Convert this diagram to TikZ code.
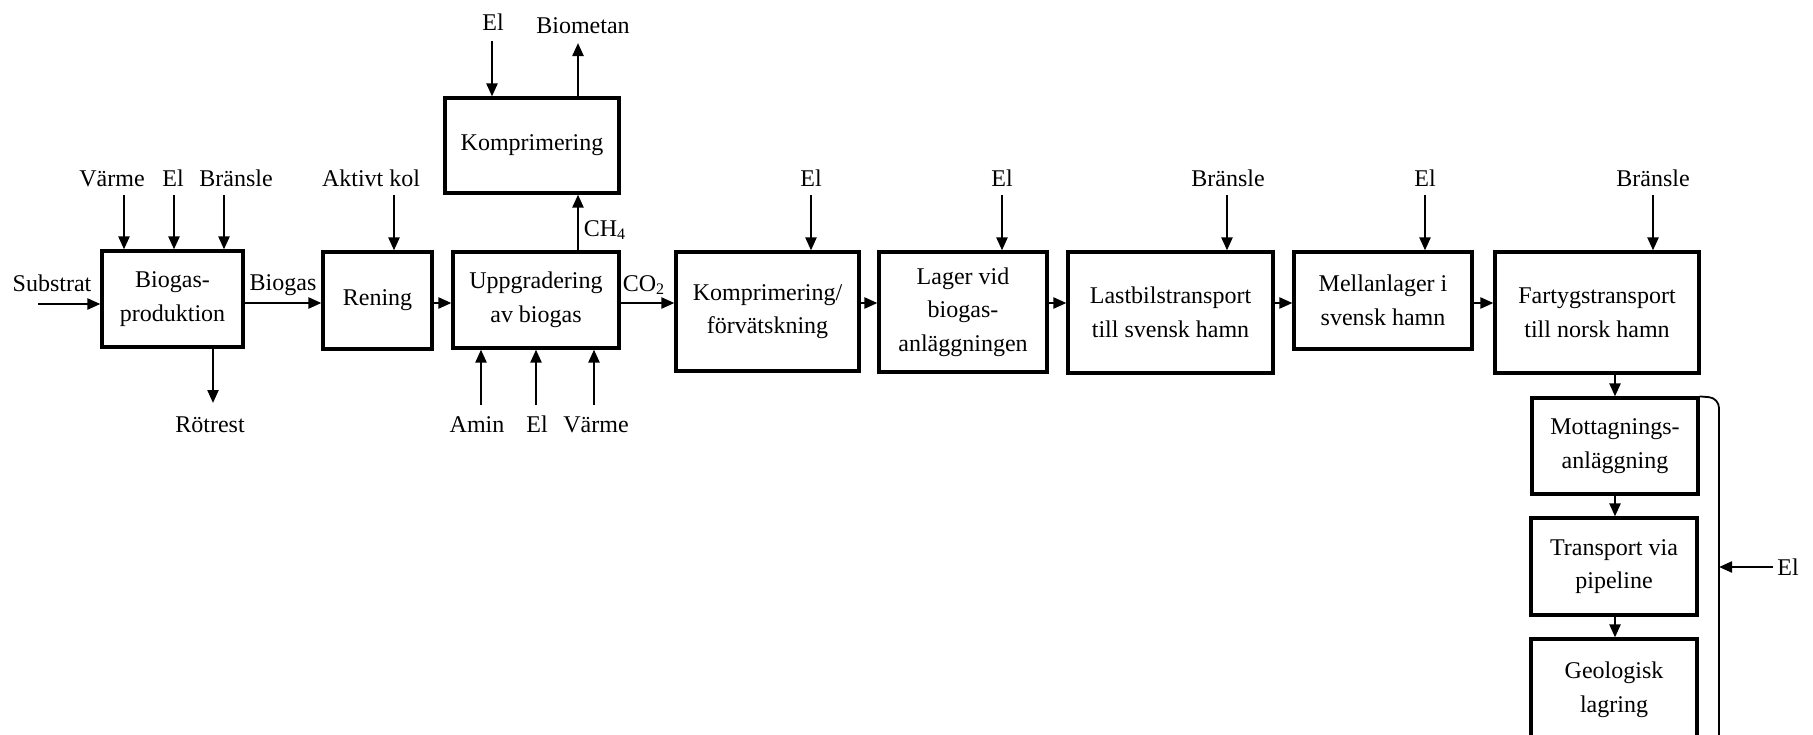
\documentclass[tikz,border=0pt]{standalone}
\usepackage{fontspec}
\setmainfont{Liberation Serif}
\usetikzlibrary{arrows.meta}
\begin{document}
\begin{tikzpicture}[x=0.5pt,y=-0.5pt,
  box/.style={draw, line width=1.6pt, align=center, inner sep=0pt, font=\fontsize{12}{16.8}\selectfont},
  lbl/.style={inner sep=0pt, anchor=base, font=\fontsize{12}{14}\selectfont},
  arr/.style={line width=1.15pt, -{Triangle[length=6.5pt,width=5.5pt]}}]
\clip (0,0) rectangle (1813,734);
% boxes
\node[box, minimum width=70.5pt, minimum height=48pt] (bio) at (172.5,299) {Biogas-\\produktion};
\node[box, minimum width=54.5pt, minimum height=48.5pt] (ren) at (377.5,300.5) {Rening};
\node[box, minimum width=83pt, minimum height=48pt] (upp) at (536,300) {Uppgradering\\av biogas};
\node[box, minimum width=87pt, minimum height=47.5pt] (komp) at (532,145.5) {Komprimering};
\node[box, minimum width=91.5pt, minimum height=59.5pt] (kf) at (767.5,311.5) {Komprimering/\\förvätskning};
\node[box, minimum width=84pt, minimum height=60pt] (lag) at (963,312) {Lager vid\\biogas-\\anläggningen};
\node[box, minimum width=102.5pt, minimum height=60.5pt] (last) at (1170.5,312.5) {Lastbilstransport\\till svensk hamn};
\node[box, minimum width=89pt, minimum height=48.5pt] (mel) at (1383,300.5) {Mellanlager i\\svensk hamn};
\node[box, minimum width=102pt, minimum height=60.5pt] (fart) at (1597,312.5) {Fartygstransport\\till norsk hamn};
\node[box, minimum width=83pt, minimum height=48pt] (mott) at (1615,446) {Mottagnings-\\anläggning};
\node[box, minimum width=83pt, minimum height=48.5pt] (pipe) at (1614,566.5) {Transport via\\pipeline};
\node[box, minimum width=83pt, minimum height=51pt] (geo) at (1614,690) {Geologisk\\lagring};

% labels (base anchored)
\node[lbl] (tsub) at (52,291) {Substrat};
\node[lbl] (tvar1) at (112,186) {Värme};
\node[lbl] (tel1) at (173,186) {El};
\node[lbl] (tbr1) at (236,186) {Bränsle};
\node[lbl] (trot) at (210,432) {Rötrest};
\node[lbl] (tbgas) at (283,290) {Biogas};
\node[lbl] (takt) at (371,186) {Aktivt kol};
\node[lbl] (tel2) at (493,30) {El};
\node[lbl] (tbiom) at (583,33) {Biometan};
\node[lbl] (tch4) at (605,236) {CH\textsubscript{4}};
\node[lbl] (tco2) at (644,291) {CO\textsubscript{2}};
\node[lbl] (tamin) at (477,432) {Amin};
\node[lbl] (tel3) at (537,432) {El};
\node[lbl] (tvar2) at (596,432) {Värme};
\node[lbl] (tel4) at (811,186) {El};
\node[lbl] (tel5) at (1002,186) {El};
\node[lbl] (tbr2) at (1228,186) {Bränsle};
\node[lbl] (tel6) at (1425,186) {El};
\node[lbl] (tbr3) at (1653,186) {Bränsle};
\node[lbl] (tel7) at (1788,575) {El};

% top inputs
\coordinate (a1) at (124,195);  \draw[arr] (a1) -- (a1 |- bio.north);
\coordinate (a2) at (174,195);  \draw[arr] (a2) -- (a2 |- bio.north);
\coordinate (a3) at (224,195);  \draw[arr] (a3) -- (a3 |- bio.north);
\coordinate (a4) at (394,195);  \draw[arr] (a4) -- (a4 |- ren.north);
\coordinate (a5) at (811,195);  \draw[arr] (a5) -- (a5 |- kf.north);
\coordinate (a6) at (1002,195); \draw[arr] (a6) -- (a6 |- lag.north);
\coordinate (a7) at (1227,195); \draw[arr] (a7) -- (a7 |- last.north);
\coordinate (a8) at (1425,195); \draw[arr] (a8) -- (a8 |- mel.north);
\coordinate (a9) at (1653,195); \draw[arr] (a9) -- (a9 |- fart.north);
\coordinate (ek) at (492,41);   \draw[arr] (ek) -- (ek |- komp.north);
\coordinate (bm) at (578,43);   \draw[arr] (bm |- komp.north) -- (bm);
\coordinate (c4) at (578,0);    \draw[arr] (upp.north -| c4) -- (komp.south -| c4);

% bottom inputs
\coordinate (b1) at (481,405); \draw[arr] (b1) -- (b1 |- upp.south);
\coordinate (b2) at (536,405); \draw[arr] (b2) -- (b2 |- upp.south);
\coordinate (b3) at (594,405); \draw[arr] (b3) -- (b3 |- upp.south);
\coordinate (r0) at (213,403); \draw[arr] (r0 |- bio.south) -- (r0);

% main chain
\coordinate (s0) at (38,304); \draw[arr] (s0) -- (s0 -| bio.west);
\coordinate (m) at (0,303);
\draw[arr] (bio.east |- m) -- (ren.west |- m);
\draw[arr] (ren.east |- m) -- (upp.west |- m);
\draw[arr] (upp.east |- m) -- (kf.west |- m);
\draw[arr] (kf.east |- m) -- (lag.west |- m);
\draw[arr] (lag.east |- m) -- (last.west |- m);
\draw[arr] (last.east |- m) -- (mel.west |- m);
\draw[arr] (mel.east |- m) -- (fart.west |- m);

% vertical chain
\coordinate (v) at (1615,0);
\draw[arr] (fart.south -| v) -- (mott.north -| v);
\draw[arr] (mott.south -| v) -- (pipe.north -| v);
\draw[arr] (pipe.south -| v) -- (geo.north -| v);

% bracket with El
\coordinate (br) at (1719,398);
\coordinate (brb) at (1719,760);
\coordinate (e0) at (1773,567);
\draw[line width=0.9pt, rounded corners=5pt] (mott.north east) -- (br) -- (brb);
\draw[arr] (e0) -- (e0 -| br);
\end{tikzpicture}
\end{document}
